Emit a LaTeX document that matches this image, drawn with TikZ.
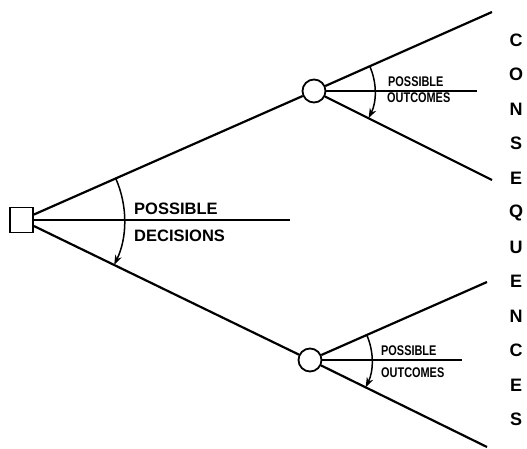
\documentclass[tikz,border=0pt]{standalone}
\usepackage{fontspec}
\setmainfont{Liberation Sans}
\usetikzlibrary{arrows.meta}
\usetikzlibrary{calc}
\tikzset{
    choice_node/.style = {rectangle, draw=black, line width=1.8pt, minimum width=23pt, minimum height=25pt, inner sep=0pt},
    chance_node/.style = {circle, draw=black, line width=1.8pt, minimum size=23pt, inner sep=0pt},
    branch/.style = {line width=2.2pt},
    sweep/.style = {line width=1.5pt, {Stealth[length=10pt,width=7pt]}-},
    big_tag/.style = {font=\bfseries\fontsize{16.5}{16.5}\selectfont, anchor=west, inner sep=0pt},
    small_tag/.style = {font=\bfseries\fontsize{14}{14}\selectfont, anchor=west, inner sep=0pt},
    cons_letter/.style = {font=\bfseries\fontsize{18}{18}\selectfont, inner sep=0pt}
}
\newcommand{\narrow}[1]{\scalebox{0.78}[1]{#1}}
% arc round #2 from the branch to #1 up to the branch to #3, radius #4
\newcommand{\sweeparc}[4]{%
    \draw [sweep] let \p1 = ($(#1)-(#2)$), \p2 = ($(#3)-(#2)$),
        \n1 = {atan2(\y1,\x1)}, \n2 = {atan2(\y2,\x2)} in
        ($(#2)!#4!(#1)$) arc [start angle=\n1, end angle=\n2, radius=#4];}
\begin{document}
\begin{tikzpicture}[x=1pt, y=1pt]
\useasboundingbox (0,0) rectangle (527,448);
% decision square and the two chance circles
\node [choice_node] (dec) at (21.5,228) {};
\node [chance_node] (c1) at (314,357) {};
\node [chance_node] (c2) at (310,88) {};
% open ends of the branches
\coordinate (dmid) at (290,228);
\coordinate (u1t) at (492,436);
\coordinate (u1m) at (477,357);
\coordinate (u1b) at (492,268);
\coordinate (u2t) at (487,166);
\coordinate (u2m) at (462,88);
\coordinate (u2b) at (487,1);
% branches
\draw [branch] (dec) -- (c1);
\draw [branch] (dec) -- (c2);
\draw [branch] (dec) -- (dmid);
\draw [branch] (c1) -- (u1t);
\draw [branch] (c1) -- (u1m);
\draw [branch] (c1) -- (u1b);
\draw [branch] (c2) -- (u2t);
\draw [branch] (c2) -- (u2m);
\draw [branch] (c2) -- (u2b);
% sweep arcs
\sweeparc{c2}{dec}{c1}{103pt}
\sweeparc{u1b}{c1}{u1t}{61pt}
\sweeparc{u2b}{c2}{u2t}{62pt}
% labels
\node [big_tag] (pd) at (134,239.5) {POSSIBLE};
\node [big_tag] (dd) at (134,212.5) {DECISIONS};
\node [small_tag] (po1) at (388,366) {\narrow{POSSIBLE}};
\node [small_tag] (oc1) at (387,350) {\narrow{OUTCOMES}};
\node [small_tag] (po2) at (381,97) {\narrow{POSSIBLE}};
\node [small_tag] (oc2) at (381,75) {\narrow{OUTCOMES}};
% column on the right
\foreach \ch [count=\i from 0] in {C,O,N,S,E,Q,U,E,N,C,E,S}
    \node [cons_letter] (q\i) at (516,408-34.5*\i) {\ch};
\end{tikzpicture}
\end{document}
